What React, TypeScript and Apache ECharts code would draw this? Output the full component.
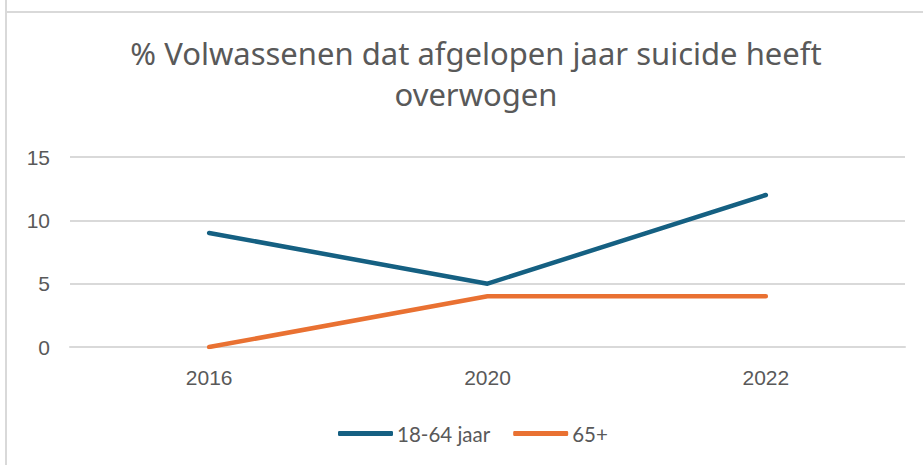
import React, { useEffect, useRef } from "react";
import * as echarts from "echarts";

const categories = ["2016", "2020", "2022"];
const seriesYoung = [9, 5, 12];
const seriesOld = [0, 4, 4];
const seriesNames = ["18-64 jaar", "65+"];
const titleText = "% Volwassenen dat afgelopen jaar suicide heeft\noverwogen";

export default function App() {
  const ref = useRef<HTMLDivElement>(null);
  useEffect(() => {
    if (!ref.current) return;
    const chart = echarts.init(ref.current, undefined, { renderer: "svg" });
    const font = "'Noto Sans', 'Open Sans', sans-serif";
    const axisFont = "'Liberation Sans', Arial, sans-serif";
    const legendFont = "Lato, 'Noto Sans', sans-serif";
    chart.setOption({
      animation: false,
      backgroundColor: "#ffffff",
      textStyle: { fontFamily: font },
      title: {
        text: titleText,
        left: 471,
        top: 27,
        textAlign: "center",
        textStyle: {
          fontSize: 31,
          fontWeight: "normal",
          color: "#595959",
          lineHeight: 41,
          fontFamily: font,
        },
      },
      graphic: [
        { type: "line", shape: { x1: 6, y1: 0, x2: 6, y2: 465 }, style: { stroke: "#d9d9d9", lineWidth: 2 } },
        { type: "line", shape: { x1: 6, y1: 12, x2: 923, y2: 12 }, style: { stroke: "#d9d9d9", lineWidth: 2 } },
      ],
      legend: {
        top: 418,
        left: 333,
        icon: "roundRect",
        itemWidth: 55,
        itemHeight: 5,
        itemGap: 23,
        textStyle: { fontSize: 20.5, color: "#595959", fontFamily: legendFont, padding: [0, 0, 0, -1] },
        data: seriesNames,
      },
      grid: { left: 70, right: 18, top: 157, bottom: 118 },
      xAxis: {
        type: "category",
        data: categories,
        boundaryGap: true,
        axisLine: { show: true, lineStyle: { color: "#d9d9d9", width: 2 } },
        axisTick: { show: false },
        axisLabel: { fontSize: 21, color: "#595959", margin: 20, fontFamily: axisFont },
      },
      yAxis: {
        type: "value",
        min: 0,
        max: 15,
        interval: 5,
        axisLine: { show: false },
        axisTick: { show: false },
        splitLine: { lineStyle: { color: "#d9d9d9", width: 2 } },
        axisLabel: { fontSize: 21, color: "#595959", margin: 20, fontFamily: axisFont },
      },
      series: [
        {
          name: seriesNames[0],
          type: "line",
          data: seriesYoung,
          symbol: "none",
          color: "#156082",
          lineStyle: { width: 4.5, color: "#156082", cap: "round", join: "round" },
        },
        {
          name: seriesNames[1],
          type: "line",
          data: seriesOld,
          symbol: "none",
          color: "#E97132",
          lineStyle: { width: 4.5, color: "#E97132", cap: "round", join: "round" },
        },
      ],
    });
    return () => chart.dispose();
  }, []);
  return (
    <div
      ref={ref}
      style={{ position: "fixed", left: 0, top: 0, width: 923, height: 465 }}
    />
  );
}
